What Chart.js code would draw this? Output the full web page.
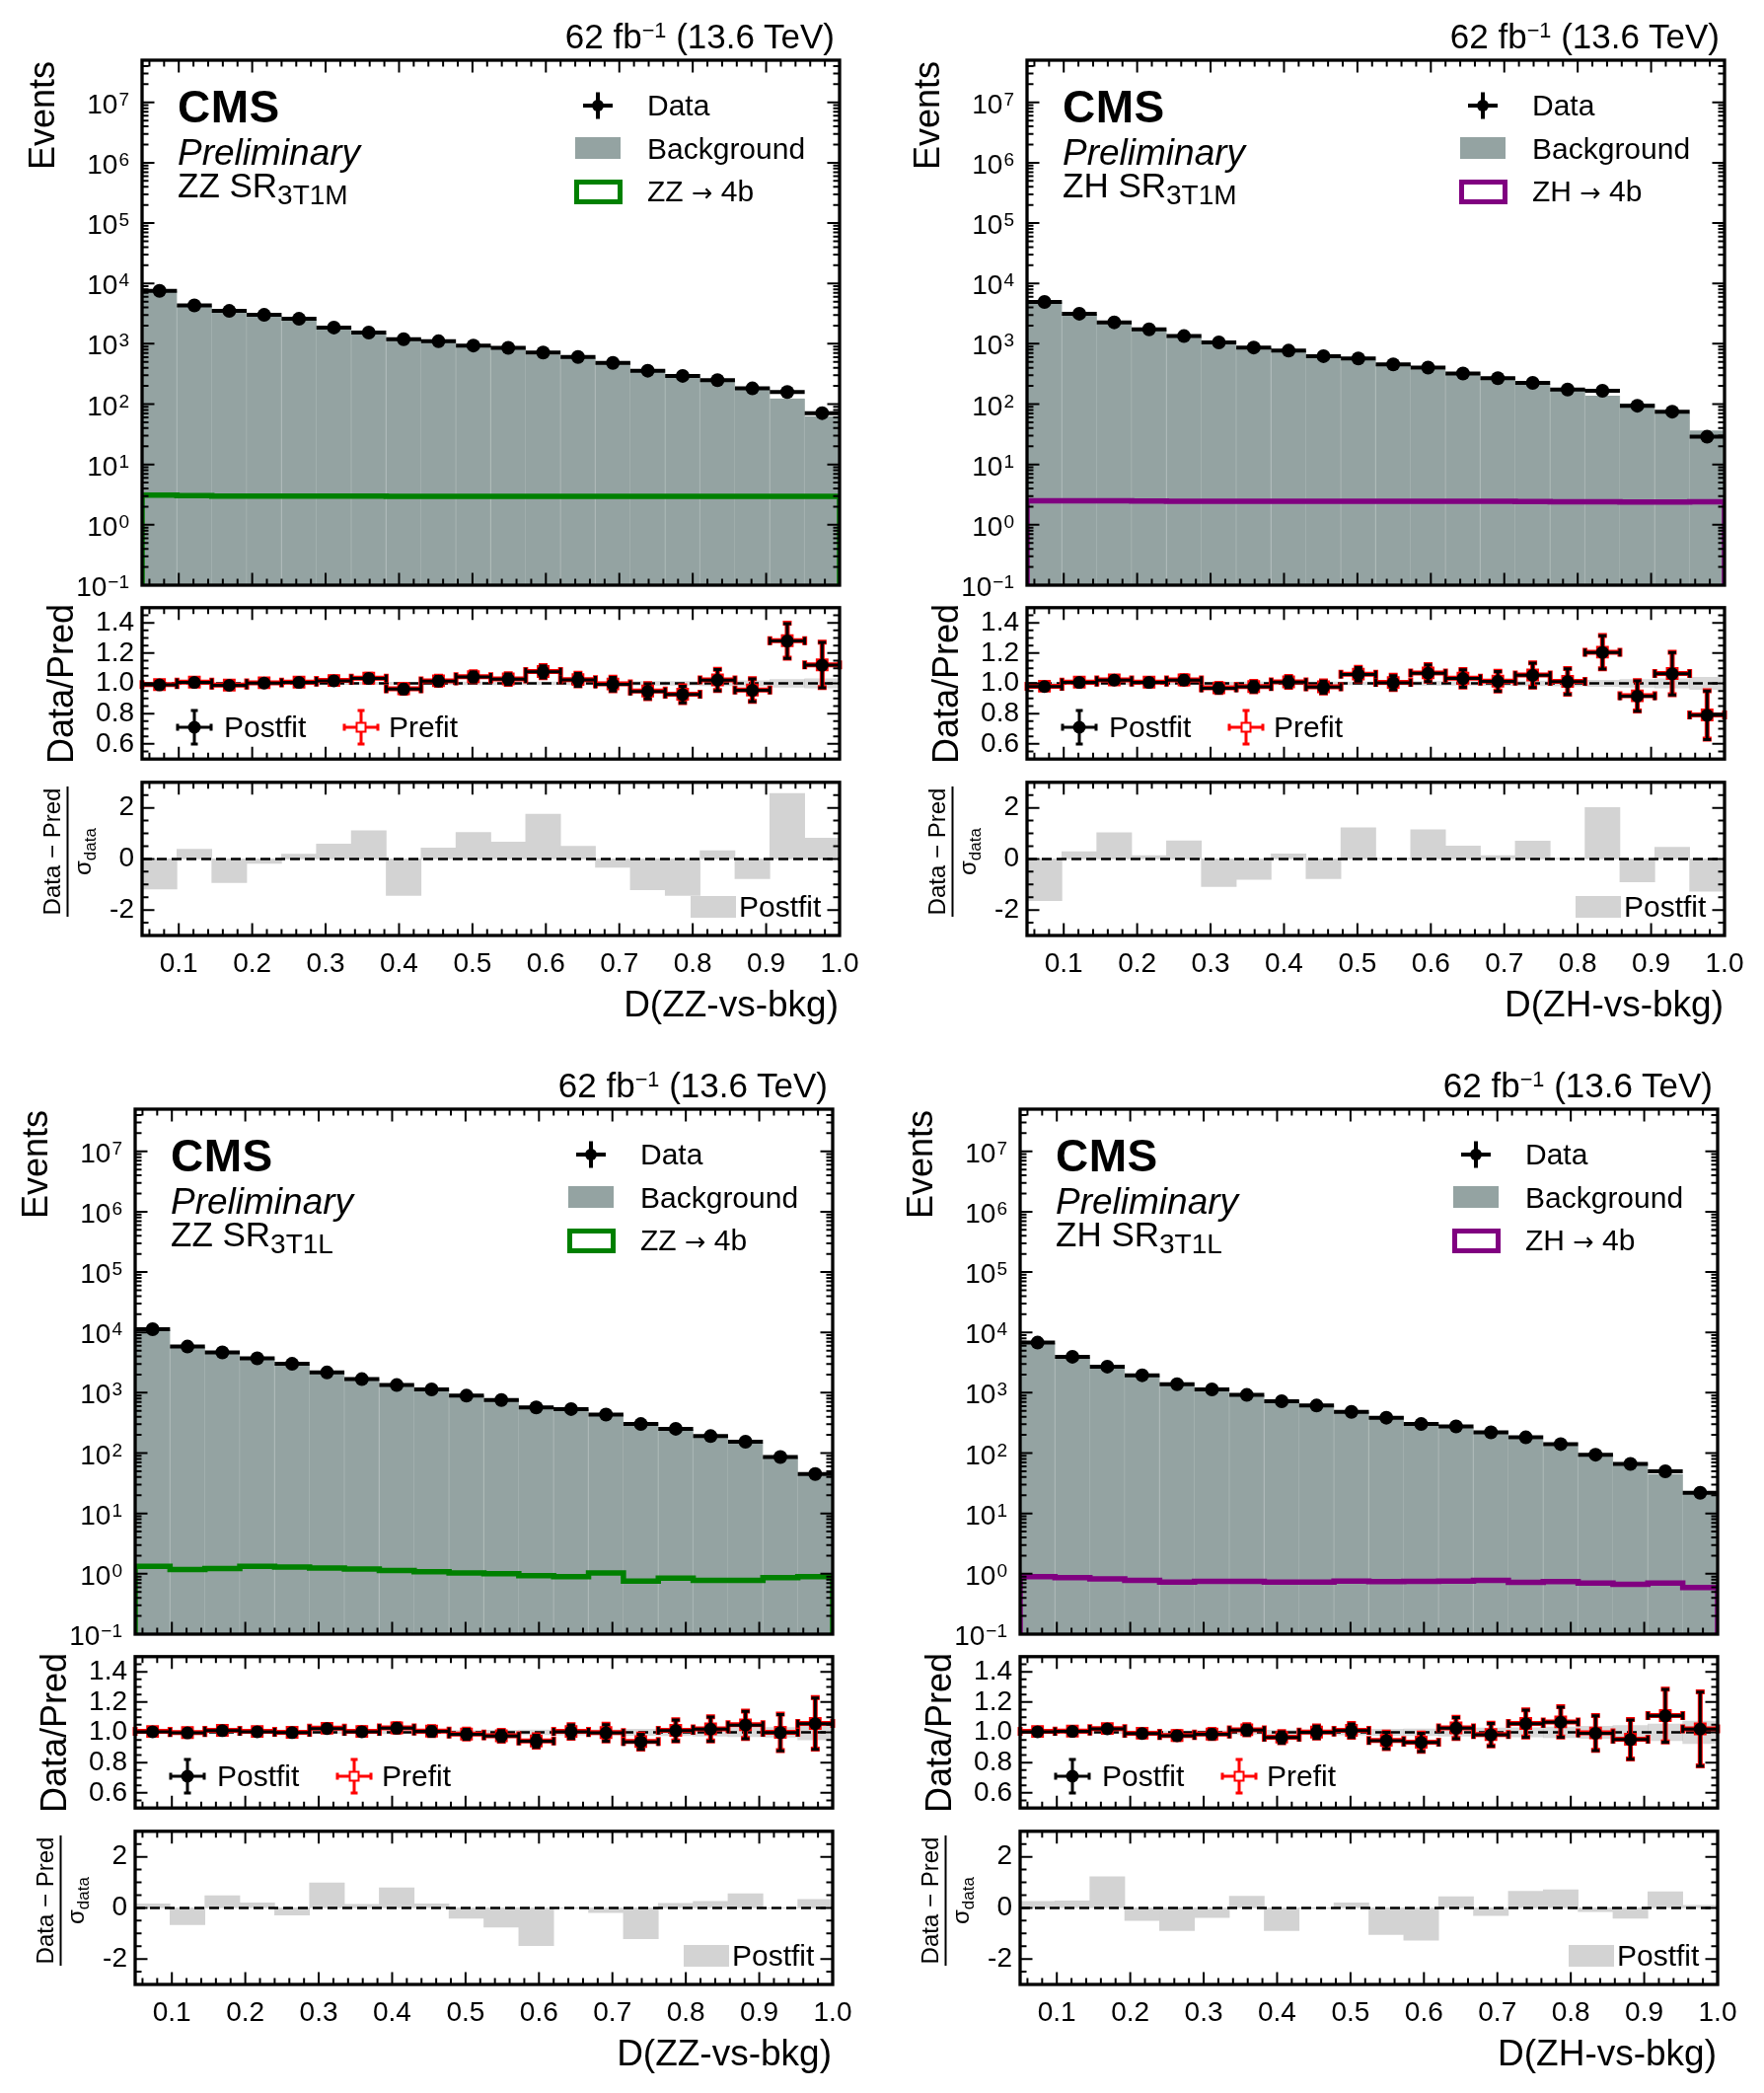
<!DOCTYPE html>
<html lang="en">
<head>
<meta charset="UTF-8">
<title>D(ZZ/ZH-vs-bkg) postfit distributions</title>
<script src="https://cdn.jsdelivr.net/npm/chart.js"></script>
<style>
  body { margin: 0; background: #fff; }
  #page { position: relative; width: 1788px; height: 2121px; overflow: hidden;
          font-family: 'Liberation Sans', Arial, sans-serif; color: #000; }
  canvas { position: absolute; }
  .t { position: absolute; white-space: nowrap; line-height: 1; }
  .sup { font-size: 0.62em; position: relative; top: -0.52em; }
  .sub { font-size: 0.8em; position: relative; top: 0.24em; }
  .arr { font-family: 'DejaVu Sans', sans-serif; font-size: 0.85em; }
  .frac { display: flex; flex-direction: column; align-items: center; font-size: 24px; }
  .frac .bar { width: 132px; height: 0; border-top: 2px solid #000; margin: 3px 0 2px; }
  .frac .subd { font-size: 17px; position: relative; top: 5px; }
  .box { position: absolute; box-sizing: border-box; }
  svg { position: absolute; overflow: visible; }
</style>
</head>
<body>
<div id="page"></div>
<script>
// binning of the discriminant
const binEdges = [0.05, 0.0975, 0.145, 0.1925, 0.24, 0.2875, 0.335, 0.3825, 0.43, 0.4775, 0.525,
                  0.5725, 0.62, 0.6675, 0.715, 0.7625, 0.81, 0.8575, 0.905, 0.9525, 1.0];

// tick labels
const xTickValues = [0.1, 0.2, 0.3, 0.4, 0.5, 0.6, 0.7, 0.8, 0.9, 1.0];
const xTickLabels = ['0.1', '0.2', '0.3', '0.4', '0.5', '0.6', '0.7', '0.8', '0.9', '1.0'];
const ratioTickValues = [0.6, 0.8, 1.0, 1.2, 1.4];
const ratioTickLabels = ['0.6', '0.8', '1.0', '1.2', '1.4'];
const pullTickValues = [-2, 0, 2];
const pullTickLabels = ['-2', '0', '2'];
const logTickValues = [0.1, 1, 10, 100, 1e3, 1e4, 1e5, 1e6, 1e7];
const logTickExponents = ['\u22121', '0', '1', '2', '3', '4', '5', '6', '7'];

// ZZ SR 3T1M
const zz3t1mData = [7520, 4320, 3500, 3010, 2590, 1860, 1535, 1190, 1100, 935, 855, 714, 605, 483, 358, 294, 250, 182, 159, 71];
const zz3t1mBkg = [7600, 4290, 3550, 3000, 2575, 1830, 1490, 1235, 1085, 897, 832, 664, 591, 486, 378, 317, 245, 191, 124, 63];
const zz3t1mSig = [3.1, 3.05, 3.0, 3.0, 3.0, 3.0, 3.0, 2.95, 2.95, 2.95, 2.95, 2.95, 2.95, 2.95, 2.95, 2.95, 2.95, 2.95, 2.95, 2.95];
const zz3t1mRatio = [0.990, 1.006, 0.987, 1.002, 1.006, 1.017, 1.032, 0.962, 1.015, 1.042, 1.027, 1.076, 1.023, 0.994, 0.947, 0.926, 1.021, 0.954, 1.280, 1.120];
const zz3t1mPrefit = [0.992, 1.008, 0.989, 1.004, 1.008, 1.019, 1.034, 0.964, 1.017, 1.044, 1.029, 1.078, 1.025, 0.996, 0.949, 0.928, 1.023, 0.956, 1.282, 1.122];
const zz3t1mRatioErr = [0.013, 0.016, 0.017, 0.018, 0.020, 0.023, 0.026, 0.029, 0.030, 0.033, 0.035, 0.040, 0.042, 0.045, 0.050, 0.055, 0.070, 0.075, 0.115, 0.150];
const zz3t1mBand = [0.006, 0.006, 0.006, 0.007, 0.007, 0.007, 0.008, 0.008, 0.008, 0.009, 0.009, 0.010, 0.010, 0.011, 0.012, 0.013, 0.015, 0.018, 0.025, 0.030];
const zz3t1mPull = [-1.18, 0.38, -0.93, -0.17, 0.19, 0.58, 1.10, -1.43, 0.43, 1.04, 0.66, 1.75, 0.50, -0.33, -1.21, -1.43, 0.32, -0.77, 2.56, 0.81];

// ZH SR 3T1M
const zh3t1mData = [4940, 3150, 2265, 1730, 1340, 1055, 867, 769, 624, 570, 455, 404, 322, 269, 225, 174, 166, 94, 75, 28.8];
const zh3t1mBkg = [5045, 3130, 2218, 1720, 1312, 1090, 887, 763, 640, 538, 453, 379, 312, 266, 214, 172, 138, 103, 70.6, 36.5];
const zh3t1mSig = [2.5, 2.5, 2.5, 2.48, 2.46, 2.45, 2.45, 2.45, 2.45, 2.45, 2.45, 2.45, 2.45, 2.45, 2.43, 2.4, 2.4, 2.38, 2.38, 2.4];
const zh3t1mRatio = [0.979, 1.006, 1.021, 1.006, 1.021, 0.968, 0.977, 1.008, 0.975, 1.059, 1.004, 1.067, 1.032, 1.013, 1.053, 1.011, 1.204, 0.916, 1.063, 0.789];
const zh3t1mPrefit = [0.981, 1.008, 1.023, 1.008, 1.023, 0.970, 0.979, 1.010, 0.977, 1.061, 1.006, 1.069, 1.034, 1.015, 1.055, 1.013, 1.206, 0.918, 1.065, 0.791];
const zh3t1mRatioErr = [0.015, 0.018, 0.022, 0.024, 0.028, 0.030, 0.034, 0.036, 0.040, 0.045, 0.047, 0.055, 0.058, 0.065, 0.080, 0.085, 0.110, 0.100, 0.140, 0.160];
const zh3t1mBand = [0.006, 0.006, 0.007, 0.007, 0.008, 0.008, 0.009, 0.009, 0.010, 0.010, 0.011, 0.012, 0.013, 0.014, 0.015, 0.017, 0.020, 0.025, 0.030, 0.040];
const zh3t1mPull = [-1.63, 0.28, 1.03, 0.13, 0.71, -1.08, -0.80, 0.20, -0.77, 1.22, 0.02, 1.14, 0.51, 0.13, 0.70, 0.02, 2.01, -0.90, 0.46, -1.27];

// ZZ SR 3T1L
const zz3t1lData = [11270, 5820, 4650, 3720, 3010, 2165, 1680, 1340, 1136, 894, 757, 570, 537, 435, 303, 253, 191, 154, 86, 45];
const zz3t1lBkg = [11225, 5843, 4600, 3705, 3016, 2112, 1673, 1305, 1129, 906, 776, 606, 535, 437, 323, 250, 187, 147, 86, 42.6];
const zz3t1lSig = [1.33, 1.18, 1.22, 1.33, 1.29, 1.25, 1.2, 1.13, 1.08, 1.03, 1.0, 0.93, 0.9, 1.03, 0.76, 0.85, 0.78, 0.78, 0.86, 0.9];
const zz3t1lRatio = [1.004, 0.996, 1.011, 1.004, 0.998, 1.025, 1.004, 1.027, 1.006, 0.987, 0.975, 0.941, 1.004, 0.996, 0.937, 1.011, 1.021, 1.048, 0.998, 1.057];
const zz3t1lPrefit = [1.006, 0.998, 1.013, 1.006, 1.000, 1.027, 1.006, 1.029, 1.008, 0.989, 0.977, 0.943, 1.006, 0.998, 0.939, 1.013, 1.023, 1.050, 1.000, 1.059];
const zz3t1lRatioErr = [0.012, 0.014, 0.016, 0.017, 0.018, 0.022, 0.025, 0.028, 0.030, 0.033, 0.036, 0.040, 0.045, 0.055, 0.050, 0.070, 0.080, 0.090, 0.120, 0.170];
const zz3t1lBand = [0.005, 0.006, 0.006, 0.007, 0.007, 0.008, 0.008, 0.009, 0.010, 0.012, 0.014, 0.016, 0.017, 0.018, 0.020, 0.022, 0.025, 0.028, 0.032, 0.050];
const zz3t1lPull = [0.16, -0.66, 0.48, 0.20, -0.28, 0.98, 0.14, 0.79, 0.16, -0.41, -0.75, -1.48, -0.02, -0.18, -1.21, 0.18, 0.25, 0.55, -0.01, 0.33];

// ZH SR 3T1L
const zh3t1lData = [6770, 3945, 2710, 1950, 1380, 1136, 920, 724, 614, 483, 386, 303, 277, 221, 182, 141, 94, 66, 50, 22];
const zh3t1lBkg = [6743, 3921, 2649, 1966, 1412, 1151, 906, 749, 614, 478, 408, 325, 270, 225, 172, 132, 94.6, 69.3, 45, 21.5];
const zh3t1lSig = [0.9, 0.86, 0.82, 0.78, 0.73, 0.75, 0.75, 0.73, 0.73, 0.76, 0.74, 0.75, 0.76, 0.78, 0.72, 0.74, 0.7, 0.67, 0.7, 0.59];
const zh3t1lRatio = [1.004, 1.006, 1.023, 0.992, 0.977, 0.987, 1.015, 0.966, 1.000, 1.011, 0.945, 0.933, 1.027, 0.983, 1.057, 1.067, 0.994, 0.952, 1.109, 1.021];
const zh3t1lPrefit = [1.006, 1.008, 1.025, 0.994, 0.979, 0.989, 1.017, 0.968, 1.002, 1.013, 0.947, 0.935, 1.029, 0.985, 1.059, 1.069, 0.996, 0.954, 1.111, 1.023];
const zh3t1lRatioErr = [0.013, 0.017, 0.020, 0.023, 0.027, 0.030, 0.033, 0.037, 0.040, 0.045, 0.055, 0.060, 0.070, 0.075, 0.090, 0.100, 0.115, 0.130, 0.175, 0.245];
const zh3t1lBand = [0.006, 0.007, 0.008, 0.009, 0.010, 0.011, 0.012, 0.014, 0.016, 0.018, 0.020, 0.022, 0.025, 0.028, 0.030, 0.035, 0.040, 0.045, 0.055, 0.075];
const zh3t1lPull = [0.25, 0.27, 1.22, -0.49, -0.89, -0.38, 0.46, -0.89, -0.02, 0.20, -1.04, -1.27, 0.44, -0.30, 0.65, 0.71, -0.15, -0.41, 0.63, 0.10];

const FONT = "'Liberation Sans', Arial, sans-serif";
Chart.defaults.font.family = FONT;
Chart.defaults.color = '#000';

const BKG_COLOR = '#94a3a2';
const PULL_COLOR = '#d3d3d3';

const page = document.getElementById('page');
const L = 110, R = 40, T = 20, B = 24, BX = 60;
const W = 707, H_MAIN = 532, H_RATIO = 159, H_PULL = 160;

// minor tick positions for the frames
const xMinorTicks = [];
for (let v = 0.06; v < 1.0; v += 0.02) xMinorTicks.push(Math.round(v * 100) / 100);
const logMinorTicks = [];
for (let e = -1; e <= 7; e++) for (let m = 2; m <= 9; m++) if (m * Math.pow(10, e) <= 5e7) logMinorTicks.push(m * Math.pow(10, e));
const ratioMinorTicks = [];
for (let v = 0.55; v < 1.5; v += 0.05) ratioMinorTicks.push(Math.round(v * 100) / 100);
const pullMinorTicks = [-2.5, -1.5, -1, -0.5, 0.5, 1, 1.5, 2.5, -3, 3];

const centers = binEdges.slice(0, -1).map((e, i) => (e + binEdges[i + 1]) / 2);
const pts = vals => vals.map((v, i) => ({ x: centers[i], y: v }));
const stepPts = vals => {
  const out = [{ x: binEdges[0], y: 0.1 }];
  vals.forEach((v, i) => out.push({ x: binEdges[i], y: v }, { x: binEdges[i + 1], y: v }));
  out.push({ x: binEdges[binEdges.length - 1], y: 0.1 });
  return out;
};

// error bars drawn just before the markers of a dataset
const errorBars = {
  id: 'errorBars',
  beforeDatasetDraw(chart, args) {
    const ds = chart.data.datasets[args.index];
    if (!ds.errBins) return;
    const { ctx, scales: { x, y } } = chart;
    const cap = ds.cap || 0;
    ctx.save();
    ctx.strokeStyle = ds.errColor;
    ctx.lineWidth = ds.errWidth;
    ctx.beginPath();
    ds.data.forEach((p, i) => {
      const xa = x.getPixelForValue(ds.errBins[i]), xb = x.getPixelForValue(ds.errBins[i + 1]);
      const px = x.getPixelForValue(p.x), py = y.getPixelForValue(p.y);
      ctx.moveTo(xa, py); ctx.lineTo(xb, py);
      if (cap) {
        ctx.moveTo(xa, py - cap); ctx.lineTo(xa, py + cap);
        ctx.moveTo(xb, py - cap); ctx.lineTo(xb, py + cap);
      }
      if (ds.yErr) {
        const ya = y.getPixelForValue(p.y - ds.yErr[i]), yb = y.getPixelForValue(p.y + ds.yErr[i]);
        ctx.moveTo(px, ya); ctx.lineTo(px, yb);
        if (cap) {
          ctx.moveTo(px - cap, ya); ctx.lineTo(px + cap, ya);
          ctx.moveTo(px - cap, yb); ctx.lineTo(px + cap, yb);
        }
      }
    });
    ctx.stroke();
    ctx.restore();
  }
};

// CMS style frame with inward ticks on all four sides
const cmsFrame = {
  id: 'cmsFrame',
  afterDraw(chart, args, opts) {
    const { ctx, chartArea: a, scales: { x, y } } = chart;
    ctx.save();
    ctx.strokeStyle = '#000';
    ctx.lineWidth = 2;
    ctx.beginPath();
    const xt = (v, len) => {
      const px = x.getPixelForValue(v);
      ctx.moveTo(px, a.bottom); ctx.lineTo(px, a.bottom - len);
      ctx.moveTo(px, a.top); ctx.lineTo(px, a.top + len);
    };
    const yt = (v, len) => {
      const py = y.getPixelForValue(v);
      if (py < a.top + 1 || py > a.bottom - 1) return;
      ctx.moveTo(a.left, py); ctx.lineTo(a.left + len, py);
      ctx.moveTo(a.right, py); ctx.lineTo(a.right - len, py);
    };
    xMinorTicks.forEach(v => xt(v, 6.5));
    xTickValues.forEach(v => xt(v, 12.5));
    opts.yMinor.forEach(v => yt(v, 6.5));
    opts.yMajor.forEach(v => yt(v, 12.5));
    ctx.stroke();
    ctx.lineWidth = 3.3;
    ctx.strokeRect(a.left, a.top, a.right - a.left, a.bottom - a.top);
    ctx.restore();
  }
};

// 10^n labels of the log axis
const logLabels = {
  id: 'logLabels',
  afterDraw(chart) {
    const { ctx, chartArea: a, scales: { y } } = chart;
    ctx.save();
    ctx.fillStyle = '#000';
    ctx.textBaseline = 'alphabetic';
    logTickValues.forEach((v, i) => {
      const py = y.getPixelForValue(v);
      const exp = logTickExponents[i];
      ctx.font = '19px ' + FONT;
      const we = ctx.measureText(exp).width;
      ctx.font = '28px ' + FONT;
      const wb = ctx.measureText('10').width;
      const xr = a.left - 13;
      ctx.fillText('10', xr - we - wb - 1, py + 11);
      ctx.font = '19px ' + FONT;
      ctx.fillText(exp, xr - we, py + 3);
    });
    ctx.restore();
  }
};

function addCanvas(x0, y0, h, bottom) {
  const c = document.createElement('canvas');
  c.width = W + L + R;
  c.height = h + T + bottom;
  c.style.left = (x0 - L) + 'px';
  c.style.top = (y0 - T) + 'px';
  page.appendChild(c);
  return c.getContext('2d');
}

const baseOptions = () => ({
  responsive: false,
  animation: false,
  events: [],
  plugins: { legend: { display: false }, tooltip: { enabled: false } }
});

const xHidden = { type: 'linear', min: 0.05, max: 1.0, bounds: 'data', offset: false, display: false };

const yLinear = (min, max, values, labels) => ({
  type: 'linear', min, max, bounds: 'data',
  afterBuildTicks: s => { s.ticks = values.map(v => ({ value: v })); },
  afterFit: s => { s.width = L; },
  ticks: { callback: (v, i) => labels[i], font: { size: 28 }, padding: 8, autoSkip: false },
  grid: { display: false, drawTicks: false },
  border: { display: false }
});

function mainChart(x0, y0, data, bkg, sig, sigColor) {
  const opts = baseOptions();
  opts.layout = { padding: { left: L, right: R, top: T, bottom: B } };
  opts.plugins.cmsFrame = { yMajor: logTickValues, yMinor: logMinorTicks };
  opts.scales = {
    x: xHidden,
    y: { type: 'logarithmic', min: 0.1, max: 5e7, display: false }
  };
  new Chart(addCanvas(x0, y0, H_MAIN, B), {
    type: 'scatter',
    data: {
      datasets: [
        { type: 'scatter', label: 'Data', data: pts(data), order: 0, pointRadius: 7,
          pointBackgroundColor: '#000', pointBorderWidth: 0, errBins: binEdges, errColor: '#000', errWidth: 4 },
        { type: 'line', label: 'Signal', data: stepPts(sig), order: 1, borderColor: sigColor,
          borderWidth: 5.5, pointRadius: 0, fill: false, tension: 0 },
        { type: 'bar', label: 'Background', data: pts(bkg), order: 2, backgroundColor: BKG_COLOR,
          borderColor: '#a6b3b1', borderWidth: { left: 0, right: 1, top: 0, bottom: 0 },
          barPercentage: 1, categoryPercentage: 1, base: 0.1 }
      ]
    },
    options: opts,
    plugins: [errorBars, cmsFrame, logLabels]
  });
}

function ratioChart(x0, y0, ratio, prefit, err, band) {
  const opts = baseOptions();
  opts.layout = { padding: { left: 0, right: R, top: T, bottom: B } };
  opts.plugins.cmsFrame = { yMajor: ratioTickValues, yMinor: ratioMinorTicks };
  opts.scales = { x: xHidden, y: yLinear(0.5, 1.5, ratioTickValues, ratioTickLabels) };
  new Chart(addCanvas(x0, y0, H_RATIO, B), {
    type: 'scatter',
    data: {
      datasets: [
        { type: 'scatter', label: 'Postfit', data: pts(ratio), order: 0, pointRadius: 6.5,
          pointBackgroundColor: '#000', pointBorderWidth: 0,
          errBins: binEdges, yErr: err, errColor: '#000', errWidth: 3, cap: 4 },
        { type: 'scatter', label: 'Prefit', data: pts(prefit), order: 1, pointStyle: 'rect', pointRadius: 7,
          pointBackgroundColor: 'rgba(255,0,0,0)', pointBorderColor: '#ff0000', pointBorderWidth: 3,
          errBins: binEdges, yErr: err, errColor: '#ff0000', errWidth: 5, cap: 4.5 },
        { type: 'line', data: [{ x: 0.05, y: 1 }, { x: 1.0, y: 1 }], order: 2, borderColor: '#000',
          borderWidth: 2.5, borderDash: [10, 5], pointRadius: 0 },
        { type: 'bar', label: 'Uncertainty', data: band.map((e, i) => ({ x: centers[i], y: [1 - e, 1 + e] })),
          order: 3, backgroundColor: 'rgba(185,185,185,0.55)', borderWidth: 0,
          barPercentage: 1, categoryPercentage: 1 }
      ]
    },
    options: opts,
    plugins: [errorBars, cmsFrame]
  });
}

function pullChart(x0, y0, pull) {
  const opts = baseOptions();
  opts.layout = { padding: { left: 0, right: R, top: T, bottom: 0 } };
  opts.plugins.cmsFrame = { yMajor: pullTickValues, yMinor: pullMinorTicks };
  opts.scales = {
    x: {
      type: 'linear', min: 0.05, max: 1.0, bounds: 'data', offset: false,
      afterBuildTicks: s => { s.ticks = xTickValues.map(v => ({ value: v })); },
      afterFit: s => { s.height = BX; },
      ticks: { callback: (v, i) => xTickLabels[i], font: { size: 28 }, padding: 12, autoSkip: false, maxRotation: 0 },
      grid: { display: false, drawTicks: false },
      border: { display: false }
    },
    y: yLinear(-3, 3, pullTickValues, pullTickLabels)
  };
  new Chart(addCanvas(x0, y0, H_PULL, BX), {
    type: 'scatter',
    data: {
      datasets: [
        { type: 'line', data: [{ x: 0.05, y: 0 }, { x: 1.0, y: 0 }], order: 0, borderColor: '#000',
          borderWidth: 2.5, borderDash: [10, 5], pointRadius: 0 },
        { type: 'bar', label: 'Postfit', data: pts(pull), order: 1, backgroundColor: PULL_COLOR,
          borderWidth: 0, barPercentage: 1, categoryPercentage: 1 }
      ]
    },
    options: opts,
    plugins: [cmsFrame]
  });
}

// ---- text and legend overlays ----
function txt(html, x, baseY, size, o = {}) {
  const d = document.createElement('div');
  d.className = 't';
  d.innerHTML = html;
  d.style.fontSize = size + 'px';
  d.style.top = (baseY - 0.8465 * size) + 'px';
  if (o.right) d.style.right = (1788 - x) + 'px'; else d.style.left = x + 'px';
  if (o.bold) d.style.fontWeight = 'bold';
  if (o.italic) d.style.fontStyle = 'italic';
  if (o.spacing) d.style.letterSpacing = o.spacing + 'px';
  page.appendChild(d);
}

function vtxt(html, baseX, anchorY, size, end) {
  const d = document.createElement('div');
  d.className = 't';
  d.innerHTML = html;
  d.style.fontSize = size + 'px';
  d.style.width = '400px';
  d.style.textAlign = end ? 'right' : 'center';
  d.style.left = (baseX - 0.8465 * size) + 'px';
  d.style.top = (anchorY + (end ? 400 : 200)) + 'px';
  d.style.transformOrigin = '0 0';
  d.style.transform = 'rotate(-90deg)';
  page.appendChild(d);
}

function pullLabel(cx, cy) {
  const d = document.createElement('div');
  d.className = 't frac';
  d.innerHTML = '<div>Data \u2212 Pred</div><div class="bar"></div><div>\u03c3<span class="subd">data</span></div>';
  d.style.left = cx + 'px';
  d.style.top = cy + 'px';
  d.style.transform = 'translate(-50%,-50%) rotate(-90deg)';
  page.appendChild(d);
}

function box(x, y, w, h, style) {
  const d = document.createElement('div');
  d.className = 'box';
  Object.assign(d.style, { left: x + 'px', top: y + 'px', width: w + 'px', height: h + 'px' }, style);
  page.appendChild(d);
}

function glyph(cx, cy, inner) {
  const d = document.createElement('div');
  d.innerHTML = '<svg width="50" height="50" viewBox="-25 -25 50 50">' + inner + '</svg>';
  const s = d.firstChild;
  s.style.left = (cx - 25) + 'px';
  s.style.top = (cy - 25) + 'px';
  page.appendChild(s);
}

const crossGlyph = (col, w, hx, hy, cap) =>
  `<path d="M${-hx},0H${hx}M0,${-hy}V${hy}` +
  (cap ? `M${-hx},${-cap}V${cap}M${hx},${-cap}V${cap}M${-cap},${-hy}H${cap}M${-cap},${hy}H${cap}` : '') +
  `" stroke="${col}" stroke-width="${w}" fill="none"/>`;

function panel(p) {
  const { x0, y0 } = p;
  const x1 = x0 + W, rTop = y0 + H_MAIN + 18, pTop = rTop + H_RATIO + 18;
  mainChart(x0, y0, p.data, p.bkg, p.sig, p.color);
  ratioChart(x0, rTop, p.ratio, p.prefit, p.err, p.band);
  pullChart(x0, pTop, p.pull);

  txt('62 fb<span class="sup">\u22121</span> (13.6 TeV)', x1 - 5, y0 - 12, 35, { right: true });
  vtxt('Events', x0 - 89, y0 + 1, 36, true);
  txt('CMS', x0 + 36, y0 + 62.5, 46, { bold: true, spacing: 0.5 });
  txt('Preliminary', x0 + 36, y0 + 106, 37, { italic: true });
  txt(p.proc + ' SR<span class="sub">' + p.region + '</span>', x0 + 36, y0 + 139, 35);

  glyph(x0 + 462, y0 + 45.5, crossGlyph('#000', 4, 15, 13.5, 0) + '<circle r="6" fill="#000"/>');
  txt('Data', x0 + 512, y0 + 56, 30);
  box(x0 + 439, y0 + 78, 46, 22, { background: BKG_COLOR });
  txt('Background', x0 + 512, y0 + 100, 30);
  box(x0 + 438, y0 + 121, 49, 25, { border: '5px solid ' + p.color });
  txt(p.proc + ' <span class="arr">\u2192</span> 4b', x0 + 512, y0 + 143, 30);

  vtxt('Data/Pred', x0 - 70, rTop + 82, 36, false);
  glyph(x0 + 53, rTop + 126, crossGlyph('#000', 3, 17, 17, 3.5) + '<circle r="6.5" fill="#000"/>');
  txt('Postfit', x0 + 83, rTop + 136, 30);
  glyph(x0 + 222, rTop + 126, crossGlyph('#ff0000', 3, 17, 17, 3.5) +
    '<rect x="-4.5" y="-4.5" width="9" height="9" fill="#fff" stroke="#ff0000" stroke-width="2"/>');
  txt('Prefit', x0 + 250, rTop + 136, 30);

  pullLabel(x0 - 76, pTop + 75);
  box(x0 + 556, pTop + 120, 46, 22, { background: PULL_COLOR });
  txt('Postfit', x0 + 605, pTop + 141, 30);

  txt('D(' + p.proc + '-vs-bkg)', x1 - 1, pTop + H_PULL + 82, 37, { right: true });
}

panel({ x0: 144, y0: 61, proc: 'ZZ', region: '3T1M', color: '#008000',
  data: zz3t1mData, bkg: zz3t1mBkg, sig: zz3t1mSig, ratio: zz3t1mRatio, prefit: zz3t1mPrefit,
  err: zz3t1mRatioErr, band: zz3t1mBand, pull: zz3t1mPull });
panel({ x0: 1041, y0: 61, proc: 'ZH', region: '3T1M', color: '#800080',
  data: zh3t1mData, bkg: zh3t1mBkg, sig: zh3t1mSig, ratio: zh3t1mRatio, prefit: zh3t1mPrefit,
  err: zh3t1mRatioErr, band: zh3t1mBand, pull: zh3t1mPull });
panel({ x0: 137, y0: 1124, proc: 'ZZ', region: '3T1L', color: '#008000',
  data: zz3t1lData, bkg: zz3t1lBkg, sig: zz3t1lSig, ratio: zz3t1lRatio, prefit: zz3t1lPrefit,
  err: zz3t1lRatioErr, band: zz3t1lBand, pull: zz3t1lPull });
panel({ x0: 1034, y0: 1124, proc: 'ZH', region: '3T1L', color: '#800080',
  data: zh3t1lData, bkg: zh3t1lBkg, sig: zh3t1lSig, ratio: zh3t1lRatio, prefit: zh3t1lPrefit,
  err: zh3t1lRatioErr, band: zh3t1lBand, pull: zh3t1lPull });
</script>
</body>
</html>
